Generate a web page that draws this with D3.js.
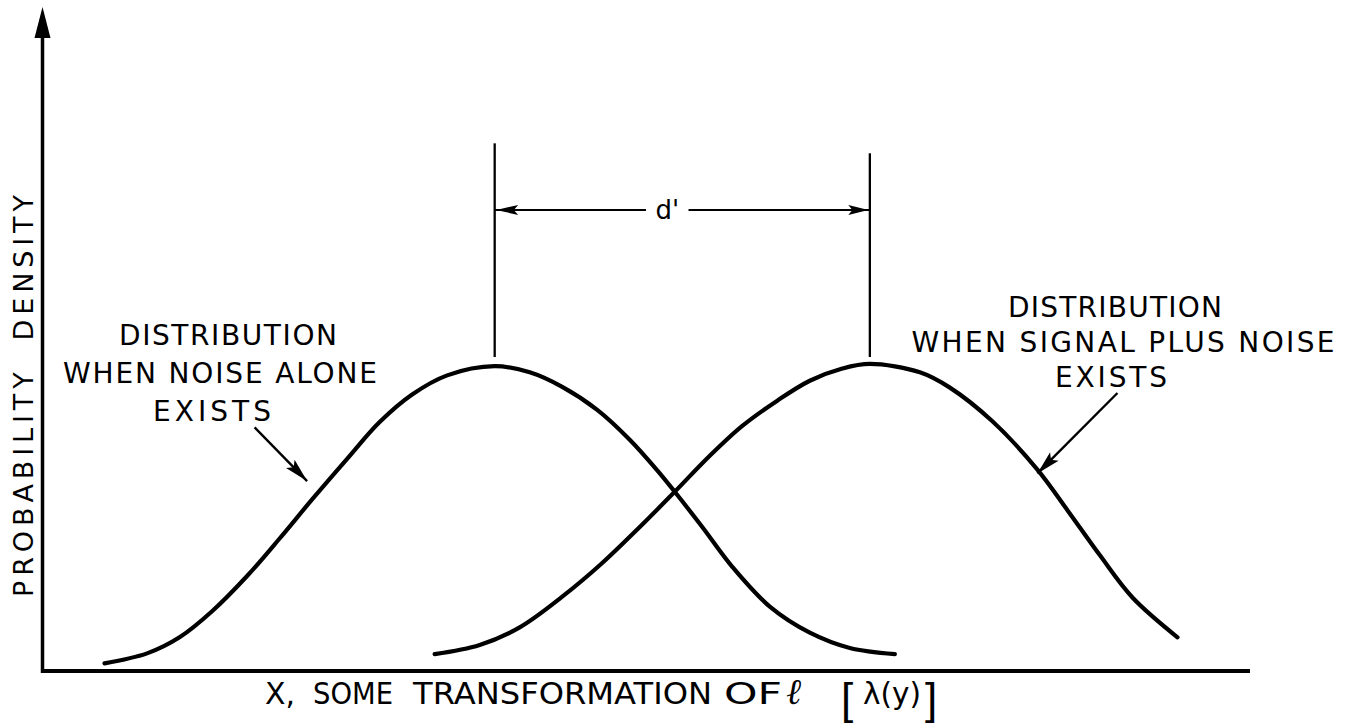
<!DOCTYPE html>
<html>
<head>
<meta charset="utf-8">
<script src="https://cdn.jsdelivr.net/npm/d3@7"></script>
<style>
  html, body { margin: 0; padding: 0; background: #fff; }
  svg { display: block; }
  text { font-family: "DejaVu Sans", "Liberation Sans", Arial, sans-serif; fill: #000; }
</style>
</head>
<body>
<svg id="chart" width="1369" height="727"></svg>
<script>
// Decision axis in units of the noise standard deviation (noise mean = 0)
const dPrime = 3;

// Density of X when noise alone exists
const noiseX = [-3.12, -2.78, -2.52, -2.26, -1.98, -1.72, -1.46, -1.18, -0.92, -0.66, -0.38, 0.00,
                0.28, 0.54, 0.82, 1.08, 1.30, 1.44, 1.66, 1.90, 2.20, 2.52, 2.84, 3.20];
const noiseY = [0.010, 0.023, 0.044, 0.078, 0.124, 0.173, 0.224, 0.277, 0.325, 0.361, 0.386, 0.398,
                0.390, 0.371, 0.341, 0.302, 0.262, 0.234, 0.188, 0.136, 0.084, 0.050, 0.030, 0.022];

// Density of X when signal plus noise exists
const signalX = [-0.48, -0.12, 0.20, 0.54, 0.86, 1.16, 1.44, 1.72, 1.98, 2.26, 2.52, 2.78, 3.00,
                 3.40, 3.64, 3.98, 4.34, 4.58, 4.84, 5.10, 5.46];
const signalY = [0.022, 0.034, 0.057, 0.097, 0.141, 0.188, 0.234, 0.281, 0.320, 0.353, 0.379, 0.395, 0.401,
                 0.390, 0.370, 0.326, 0.263, 0.210, 0.151, 0.096, 0.044];

// Text
const yTitle = "PROBABILITY  DENSITY";
const noiseLabel = ["DISTRIBUTION", "WHEN NOISE ALONE", "EXISTS"];
const signalLabel = ["DISTRIBUTION", "WHEN SIGNAL PLUS NOISE", "EXISTS"];

const svg = d3.select("#chart");

const x = d3.scaleLinear().domain([-3.62, 6.04]).range([42, 1250]);
const y = d3.scaleLinear().domain([0, 0.867]).range([671, 7]);

const toPts = (xs, ys) => xs.map((v, i) => [v, ys[i]]);
const line = d3.line().x(d => x(d[0])).y(d => y(d[1])).curve(d3.curveCatmullRom.alpha(0.5));

// Axes
const x0 = x.range()[0];
svg.append("line")
  .attr("x1", x0 + 0.5).attr("x2", x0 + 0.5)
  .attr("y1", y(0) + 2).attr("y2", 36)
  .attr("stroke", "#000").attr("stroke-width", 3.5);
svg.append("path")
  .attr("d", `M${x0 + 0.5},7 L${x0 - 7.5},38 L${x0 + 8.5},38 Z`)
  .attr("fill", "#000");
svg.append("line")
  .attr("x1", x0 - 1).attr("x2", x.range()[1])
  .attr("y1", y(0)).attr("y2", y(0))
  .attr("stroke", "#000").attr("stroke-width", 4);

// Distributions
[toPts(noiseX, noiseY), toPts(signalX, signalY)].forEach(pts => {
  svg.append("path")
    .attr("d", line(pts))
    .attr("fill", "none")
    .attr("stroke", "#000")
    .attr("stroke-width", 4.2)
    .attr("stroke-linecap", "round")
    .attr("stroke-linejoin", "round");
});

// Filled arrowhead with its tip at (tx, ty), pointing from (fx, fy)
function arrowHead(fx, fy, tx, ty, len, half) {
  const a = Math.atan2(ty - fy, tx - fx);
  const bx = tx - len * Math.cos(a), by = ty - len * Math.sin(a);
  const nx = -Math.sin(a) * half, ny = Math.cos(a) * half;
  const p = d3.path();
  p.moveTo(tx, ty);
  p.lineTo(bx + nx, by + ny);
  p.lineTo(bx + len * 0.2 * Math.cos(a), by + len * 0.2 * Math.sin(a));
  p.lineTo(bx - nx, by - ny);
  p.closePath();
  return p.toString();
}

// d' separation between the two means
const meanTop = [0.689, 0.676];
const meanBottom = 0.41;
const dLevel = 0.602;
[0, dPrime].forEach((m, i) => {
  svg.append("line")
    .attr("x1", x(m)).attr("x2", x(m))
    .attr("y1", y(meanTop[i])).attr("y2", y(meanBottom))
    .attr("stroke", "#000").attr("stroke-width", 2.3);
});
svg.append("line")
  .attr("x1", x(0)).attr("x2", x(1.21))
  .attr("y1", y(dLevel)).attr("y2", y(dLevel))
  .attr("stroke", "#000").attr("stroke-width", 2);
svg.append("line")
  .attr("x1", x(1.55)).attr("x2", x(dPrime))
  .attr("y1", y(dLevel)).attr("y2", y(dLevel))
  .attr("stroke", "#000").attr("stroke-width", 2);
svg.append("path")
  .attr("d", arrowHead(x(1), y(dLevel), x(0) + 1.5, y(dLevel), 22, 5))
  .attr("fill", "#000");
svg.append("path")
  .attr("d", arrowHead(x(2), y(dLevel), x(dPrime) - 1.5, y(dLevel), 20, 5))
  .attr("fill", "#000");
svg.append("text")
  .attr("x", x(1.38)).attr("y", y(dLevel) + 9)
  .attr("text-anchor", "middle")
  .attr("font-size", 26)
  .text("d'");

// Pointer arrows from the labels to the curves
const pointers = [
  { from: [-1.92, 0.318], to: [-1.50, 0.248] },
  { from: [4.98, 0.363], to: [4.34, 0.258] }
];
pointers.forEach(p => {
  const fx = x(p.from[0]), fy = y(p.from[1]), tx = x(p.to[0]), ty = y(p.to[1]);
  svg.append("line")
    .attr("x1", fx).attr("y1", fy).attr("x2", tx).attr("y2", ty)
    .attr("stroke", "#000").attr("stroke-width", 2.4);
  svg.append("path").attr("d", arrowHead(fx, fy, tx, ty, 24, 6)).attr("fill", "#000");
});

// Curve labels
function label(lines, spec) {
  lines.forEach((t, i) => {
    svg.append("text")
      .attr("x", spec[i].cx).attr("y", spec[i].base)
      .attr("text-anchor", "middle")
      .attr("font-size", 28)
      .attr("textLength", spec[i].w)
      .attr("lengthAdjust", "spacing")
      .text(t);
  });
}
label(noiseLabel, [
  { cx: 228, base: 345, w: 218 },
  { cx: 220, base: 383, w: 314 },
  { cx: 212, base: 421, w: 118 }
]);
label(signalLabel, [
  { cx: 1115, base: 317, w: 214 },
  { cx: 1123, base: 352, w: 423 },
  { cx: 1111, base: 387, w: 112 }
]);

// Y axis title
svg.append("text")
  .attr("transform", "translate(33,396) rotate(-90)")
  .attr("text-anchor", "middle")
  .attr("font-size", 27)
  .attr("textLength", 402)
  .attr("lengthAdjust", "spacing")
  .style("white-space", "pre")
  .text(yTitle);

// X axis title
const xBase = 704;
const xParts = [
  { t: "X,", x0: 265, w: 30 },
  { t: "SOME", x0: 313, w: 80 },
  { t: "TRANSFORMATION", x0: 413, w: 299 },
  { t: "OF", x0: 724, w: 58 },
  { t: "λ(y)", x0: 863, w: 58 }
];
xParts.forEach(p => {
  svg.append("text")
    .attr("x", p.x0).attr("y", xBase)
    .attr("font-size", 31)
    .attr("textLength", p.w)
    .attr("lengthAdjust", "spacingAndGlyphs")
    .text(p.t);
});
svg.append("text")
  .attr("x", 786).attr("y", xBase)
  .attr("font-size", 36)
  .attr("font-style", "italic")
  .style("font-family", "'DejaVu Serif', serif")
  .text("ℓ");
[["[", 841], ["]", 925]].forEach(([b, bx]) => {
  svg.append("text")
    .attr("x", bx).attr("y", xBase + 10)
    .attr("font-size", 44)
    .style("font-family", "'Liberation Sans', Arial, sans-serif")
    .text(b);
});
</script>
</body>
</html>
